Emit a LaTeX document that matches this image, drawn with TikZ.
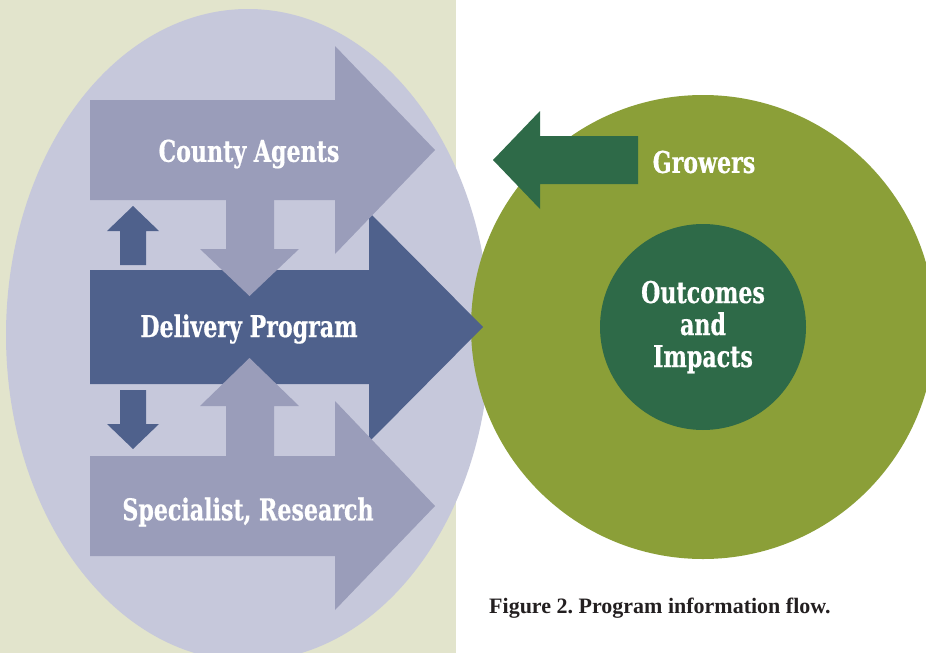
\documentclass[tikz,border=0pt]{standalone}
\usepackage{fontspec}
\newfontfamily\labfont[FakeStretch=0.82, BoldFeatures={FakeBold=0.5}]{DejaVu Serif Condensed}
\newfontfamily\capfont{Liberation Serif}
\definecolor{bgbeige}{HTML}{E2E4CC}
\definecolor{ellcol}{HTML}{C6C8DB}
\definecolor{lightarr}{HTML}{9A9DBA}
\definecolor{darkblue}{HTML}{4F618C}
\definecolor{olive}{HTML}{8B9F38}
\definecolor{dkgreen}{HTML}{2E6A48}
\definecolor{captxt}{HTML}{231F20}
\tikzset{
  lab/.style={text=white, font=\labfont\bfseries\fontsize{30}{32}\selectfont, inner sep=0pt},
  captionlab/.style={text=captxt, font=\capfont\bfseries\frenchspacing\fontsize{22}{24}\selectfont, inner sep=0pt}
}
\begin{document}
\begin{tikzpicture}[x=1pt,y=-1pt]
\useasboundingbox (0,0) rectangle (926,653);
% background
\fill[white] (0,0) rectangle (926,653);
\fill[bgbeige] (0,0) rectangle (456,653);
% big ellipse
\begin{scope}
\clip (0,0) rectangle (926,653);
\fill[ellcol] (248,335) ellipse [x radius=242, y radius=326];
\end{scope}
% green circles
\fill[olive] (703,327) circle [radius=232];
\fill[dkgreen] (703,327) circle [radius=103];
% delivery arrow
\fill[darkblue] (90,270) -- (369,270) -- (369,212) -- (483,327) -- (369,442) -- (369,384) -- (90,384) -- cycle;
% small dark arrows
\fill[darkblue] (120,265) -- (120,231) -- (107,231) -- (133,206) -- (159,231) -- (146,231) -- (146,265) -- cycle;
\fill[darkblue] (120,390) -- (146,390) -- (146,424) -- (159,424) -- (133,449) -- (107,424) -- (120,424) -- cycle;
% county arrow + down arrow
\fill[lightarr] (90,100) -- (335,100) -- (335,46) -- (435,150) -- (335,254) -- (335,200) -- (90,200) -- cycle;
\fill[lightarr] (226,199) -- (274,199) -- (274,249) -- (299,249) -- (249.5,296) -- (200,249) -- (226,249) -- cycle;
% specialist arrow + up arrow
\fill[lightarr] (226,457) -- (226,406) -- (200,406) -- (249.5,358) -- (299,406) -- (274,406) -- (274,457) -- cycle;
\fill[lightarr] (90,456) -- (335,456) -- (335,401) -- (435,506) -- (335,610) -- (335,556) -- (90,556) -- cycle;
% growers arrow
\fill[dkgreen] (638,136) -- (540,136) -- (540,111) -- (493,160) -- (540,209) -- (540,184) -- (638,184) -- cycle;
% labels
\node[lab] (county) at (249,154) {County Agents};
\node[lab] (delivery) at (249,329) {Delivery Program};
\node[lab] (spec) at (248,512) {Specialist, Research};
\node[lab] (growers) at (704,162) {Growers};
\node[lab, align=center] (outcomes) at (703,327) {Outcomes\\and\\Impacts};
\node[captionlab, anchor=base west] (caption) at (489,613) {Figure 2. Program information flow.};
\end{tikzpicture}
\end{document}
